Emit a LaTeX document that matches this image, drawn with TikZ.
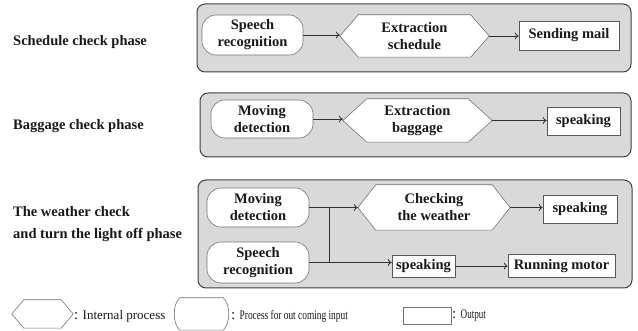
\documentclass[tikz,border=0pt]{standalone}
\usepackage{fontspec}
\setmainfont{Liberation Serif}
\usepackage{graphicx}
\usetikzlibrary{arrows.meta}
\pgfdeclarelayer{back}
\pgfdeclarelayer{mid}
\pgfsetlayers{back,mid,main}
\newcommand{\hexof}[2]{%
  \begin{pgfonlayer}{mid}
  \draw[hexline] (#1.west) -- ([xshift=#2]#1.north west) -- ([xshift=-#2]#1.north east) -- (#1.east) -- ([xshift=-#2]#1.south east) -- ([xshift=#2]#1.south west) -- cycle;
  \end{pgfonlayer}}
\begin{document}
\begin{tikzpicture}[x=1pt,y=-1pt,
  txt/.style={font=\bfseries\fontsize{14.5}{17}\selectfont, text=black!90, align=center, inner sep=0pt},
  inbox/.style={txt, draw=black!55, fill=white, line width=0.6pt, rounded corners=14pt},
  outbox/.style={txt, draw=black!65, fill=white, line width=0.6pt},
  hexnode/.style={txt},
  hexline/.style={draw=black!55, fill=white, line width=0.6pt},
  panel/.style={draw=black!75, fill=black!15, line width=1pt, rounded corners=8pt},
  arr/.style={draw=black!80, line width=0.8pt, -{To[length=4pt,width=7pt]}},
  plain/.style={draw=black!80, line width=0.8pt},
  phase/.style={font=\bfseries\fontsize{14.5}{22}\selectfont, text=black!90, align=left, anchor=west, inner sep=0pt},
  legend/.style={font=\fontsize{13}{16}\selectfont, text=black!90, anchor=west, inner sep=0pt}
]
\useasboundingbox (0,0) rectangle (638,331);

% panels
\begin{pgfonlayer}{back}
\fill[white] (0,0) rectangle (638,331);
\draw[panel] (197,4) rectangle (631,72);
\draw[panel] (200,93) rectangle (631,157);
\draw[panel] (198,180) rectangle (632,288);
\end{pgfonlayer}

% phase labels
\node[phase] (ph1) at (13,42) {Schedule check phase};
\node[phase] (ph2) at (13,126) {Baggage check phase};
\node[phase] (ph3) at (13,224) {The weather check\\and turn the light off phase};

% panel 1
\node[inbox, minimum width=101pt, minimum height=40pt] (sr1) at (252.5,35) {Speech\\recognition};
\node[hexnode, minimum width=149pt, minimum height=42pt] (hex1) at (414.5,36) {Extraction\\schedule};
\hexof{hex1}{18.5pt}
\node[outbox, minimum width=100pt, minimum height=29pt] (mail) at (569,35.5) {Sending mail};
\draw[arr] (sr1.east) -- (sr1.east -| hex1.west);
\draw[arr] (hex1.east) -- (hex1.east -| mail.west);

% panel 2
\node[inbox, minimum width=102pt, minimum height=38pt] (md2) at (262,119) {Moving\\detection};
\node[hexnode, minimum width=149pt, minimum height=43pt] (hex2) at (417.5,120.5) {Extraction\\baggage};
\hexof{hex2}{24pt}
\node[outbox, minimum width=73pt, minimum height=28pt] (spk2) at (583.5,121) {speaking};
\draw[arr] (md2.east) -- (md2.east -| hex2.west);
\draw[arr] (hex2.east) -- (hex2.east -| spk2.west);

% panel 3
\node[inbox, minimum width=102pt, minimum height=39pt] (md3) at (258,207.5) {Moving\\detection};
\node[inbox, minimum width=102pt, minimum height=41pt] (sr3) at (258,262.5) {Speech\\recognition};
\node[hexnode, minimum width=152pt, minimum height=45pt] (hex3) at (434,207.5) {Checking\\the weather};
\hexof{hex3}{18pt}
\node[outbox, minimum width=74pt, minimum height=28pt] (spk3a) at (580,209) {speaking};
\node[outbox, minimum width=63pt, minimum height=22pt] (spk3b) at (423.5,266) {speaking};
\node[outbox, minimum width=107pt, minimum height=23pt] (motor) at (561.5,266) {Running motor};
\coordinate (j) at (329,235);
\draw[arr] (md3.east) -- (md3.east -| hex3.west);
\draw[arr] (sr3.east) -- (sr3.east -| spk3b.west);
\draw[plain] (md3.east -| j) -- (sr3.east -| j);
\draw[arr] (hex3.east) -- (hex3.east -| spk3a.west);
\draw[arr] (spk3b.east) -- (spk3b.east -| motor.west);

% legend
\node[minimum width=61pt, minimum height=28pt, inner sep=0pt] (lhex) at (42.5,314) {};
\hexof{lhex}{12pt}
\node[minimum width=57pt, minimum height=32pt, inner sep=0pt] (lin) at (201.5,314) {};
\draw[hexline] ([xshift=7pt]lin.north west) -- ([xshift=-7pt]lin.north east)
  .. controls ([shift={(0.5pt,-7pt)}]lin.north east) and ([shift={(0.5pt,7pt)}]lin.south east) .. ([xshift=-7pt]lin.south east)
  -- ([xshift=7pt]lin.south west)
  .. controls ([shift={(-0.5pt,7pt)}]lin.south west) and ([shift={(-0.5pt,-7pt)}]lin.north west) .. ([xshift=7pt]lin.north west) -- cycle;
\node[draw=black!55, fill=white, line width=0.6pt, minimum width=48pt, minimum height=17pt, inner sep=0pt] (lout) at (427,315.5) {};
\node[legend] (t1) at (74,316) {{\fontsize{15}{16}\selectfont:} Internal process};
\node[legend] (t2) at (231,316) {{\fontsize{15}{16}\selectfont:} \scalebox{0.72}[1]{Process for out coming input}};
\node[legend] (t3) at (452,316) {{\fontsize{15}{16}\selectfont:} \scalebox{0.7}[1]{Output}};
\end{tikzpicture}
\end{document}
